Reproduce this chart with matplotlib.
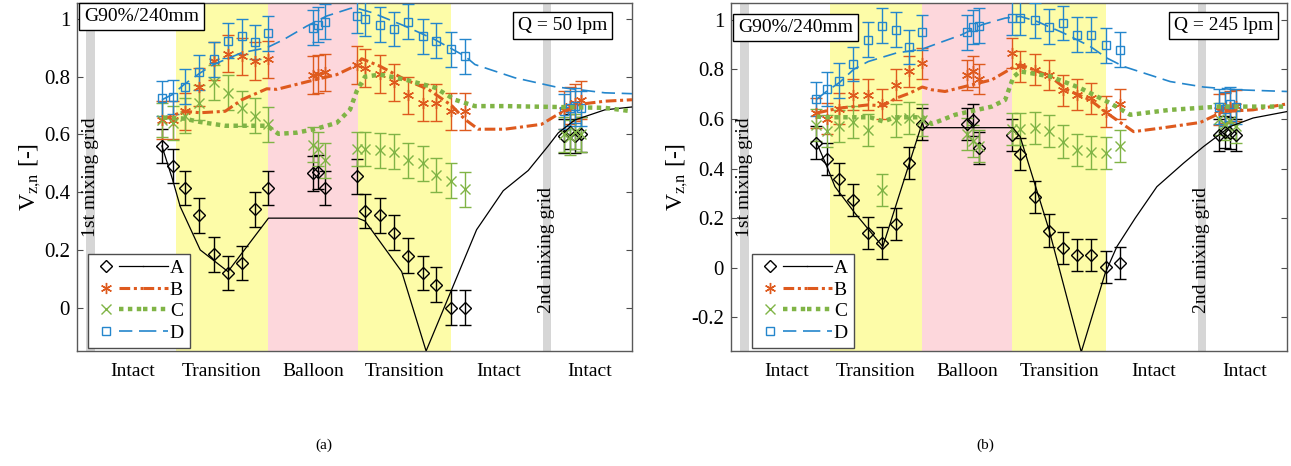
import matplotlib
matplotlib.use('Agg')
import matplotlib.pyplot as plt
import matplotlib.transforms as mtransforms
from matplotlib.lines import Line2D
from matplotlib.legend_handler import HandlerTuple

plt.rcParams['font.family'] = ['Liberation Serif', 'DejaVu Serif']
plt.rcParams['mathtext.fontset'] = 'stix'

# axial positions of measurement points (arbitrary units along the tube, 0..100)
x_pts = [15.3, 17.3, 19.4, 22.0, 24.6, 27.2, 29.7, 32.1, 34.4,
         42.5, 43.5, 44.6,
         50.5, 51.9, 54.6, 57.2, 59.7, 62.3, 64.7, 67.4, 69.9,
         87.8, 88.8, 89.8, 90.9]

# ---- panel (a): Q = 50 lpm ----
A_a = [0.56, 0.49, 0.415, 0.32, 0.185, 0.12, 0.155, 0.34, 0.415,
       0.465, 0.47, 0.415,
       0.455, 0.335, 0.32, 0.26, 0.18, 0.12, 0.08, 0.0, 0.0,
       0.595, 0.61, 0.595, 0.60]
B_a = [0.65, 0.65, 0.68, 0.765, 0.855, 0.88, 0.87, 0.855, 0.86,
       0.805, 0.81, 0.815,
       0.84, 0.83, 0.81, 0.78, 0.735, 0.71, 0.71, 0.68, 0.68,
       0.685, 0.70, 0.71, 0.72]
C_a = [0.65, 0.64, 0.665, 0.71, 0.78, 0.745, 0.69, 0.665, 0.635,
       0.565, 0.55, 0.51,
       0.55, 0.55, 0.545, 0.54, 0.51, 0.50, 0.46, 0.44, 0.41,
       0.60, 0.59, 0.61, 0.60]
D_a = [0.725, 0.73, 0.765, 0.815, 0.86, 0.925, 0.94, 0.92, 0.95,
       0.97, 0.98, 0.99,
       1.01, 1.0, 0.98, 0.965, 0.99, 0.94, 0.925, 0.895, 0.87,
       0.68, 0.69, 0.70, 0.69]
err_a = {'A': 0.06, 'B': 0.065, 'C': 0.06, 'D': 0.06}

# model curves (a)
lineA_ax = [15.3, 17.2, 18.6, 22.2, 27.2, 34.5, 50.6, 51.9, 58.5, 62.9, 72.0, 76.8, 81.3, 84.9, 86.7, 89.7, 95.1, 100]
lineA_ay = [0.56, 0.445, 0.35, 0.20, 0.125, 0.31, 0.31, 0.30, 0.125, -0.15, 0.27, 0.405, 0.475, 0.56, 0.605, 0.65, 0.685, 0.695]
lineB_ax = [15.3, 17.2, 19.3, 22.2, 26.7, 29.7, 34.2, 36.0, 42.0, 46.8, 50.4, 51.3, 54.6, 59.1, 63.3, 67.5, 69.9, 72.3, 77.1, 83.7, 86.7, 90.9, 95.1, 100]
lineB_ay = [0.65, 0.665, 0.68, 0.675, 0.68, 0.72, 0.758, 0.756, 0.785, 0.807, 0.84, 0.862, 0.836, 0.79, 0.756, 0.70, 0.652, 0.618, 0.618, 0.635, 0.67, 0.705, 0.715, 0.72]
lineC_ax = [15.5, 19.2, 22.2, 26.7, 34.2, 36.3, 39.6, 43.2, 46.8, 49.2, 50.4, 51.9, 54.6, 59.1, 64.5, 68.1, 71.7, 77.1, 95.1, 100]
lineC_ay = [0.658, 0.655, 0.643, 0.63, 0.63, 0.602, 0.606, 0.62, 0.64, 0.686, 0.75, 0.80, 0.807, 0.79, 0.762, 0.72, 0.698, 0.698, 0.692, 0.68]
lineD_ax = [15.3, 17.2, 19.3, 22.2, 24.6, 29.7, 34.2, 37.2, 41.4, 45.0, 49.2, 50.1, 53.1, 59.1, 64.5, 69.9, 71.7, 78.9, 86.1, 95.1, 100]
lineD_ay = [0.72, 0.738, 0.773, 0.813, 0.842, 0.883, 0.90, 0.928, 0.975, 1.01, 1.036, 1.039, 1.022, 0.975, 0.928, 0.871, 0.842, 0.796, 0.765, 0.744, 0.741]

# ---- panel (b): Q = 245 lpm ----
A_b = [0.505, 0.438, 0.358, 0.274, 0.139, 0.101, 0.177, 0.424, 0.581,
       0.581, 0.597, 0.482,
       0.536, 0.459, 0.285, 0.150, 0.079, 0.052, 0.052, 0.002, 0.018,
       0.536, 0.549, 0.543, 0.536]
B_b = [0.624, 0.601, 0.642, 0.698, 0.698, 0.661, 0.738, 0.792, 0.824,
       0.778, 0.792, 0.761,
       0.866, 0.812, 0.799, 0.778, 0.715, 0.698, 0.684, 0.630, 0.661,
       0.637, 0.644, 0.650, 0.653]
C_b = [0.577, 0.551, 0.572, 0.588, 0.556, 0.315, 0.594, 0.604, 0.595,
       0.54, 0.51, 0.49,
       0.56, 0.56, 0.563, 0.552, 0.509, 0.476, 0.465, 0.462, 0.492,
       0.60, 0.58, 0.59, 0.57]
D_b = [0.681, 0.721, 0.754, 0.822, 0.920, 0.976, 0.960, 0.890, 0.949,
       0.949, 0.971, 0.976,
       1.007, 1.007, 0.998, 0.973, 0.987, 0.940, 0.940, 0.897, 0.879,
       0.65, 0.64, 0.66, 0.65]
err_b = {'A': 0.065, 'B': 0.062, 'C': 0.065, 'D': 0.07}

lineA_bx = [15.4, 17.4, 18.7, 22.3, 27.3, 34.4, 34.7, 50.7, 52.0, 57.2, 63.0, 67.3, 69.4, 72.7, 76.6, 81.4, 85.0, 89.8, 93.9, 100]
lineA_by = [0.505, 0.40, 0.327, 0.22, 0.085, 0.585, 0.565, 0.565, 0.529, 0.153, -0.34, -0.022, 0.085, 0.20, 0.327, 0.422, 0.489, 0.570, 0.604, 0.630]
lineB_bx = [15.4, 17.4, 19.5, 24.7, 27.3, 29.7, 32.1, 34.4, 36.1, 38.5, 43.3, 46.9, 50.5, 52.0, 54.4, 57.4, 60.4, 64.6, 67.6, 72.4, 77.2, 84.4, 88.5, 93.9, 100]
lineB_by = [0.624, 0.634, 0.644, 0.657, 0.653, 0.684, 0.704, 0.729, 0.718, 0.711, 0.738, 0.758, 0.805, 0.819, 0.799, 0.772, 0.718, 0.677, 0.624, 0.549, 0.563, 0.586, 0.630, 0.637, 0.661]
lineC_bx = [15.4, 16.6, 25.0, 27.4, 29.5, 34.5, 36.1, 40.3, 46.9, 49.3, 50.8, 52.0, 57.4, 62.8, 68.2, 71.8, 79.0, 87.9, 100]
lineC_by = [0.61, 0.607, 0.607, 0.59, 0.607, 0.607, 0.58, 0.617, 0.650, 0.677, 0.77, 0.792, 0.772, 0.725, 0.664, 0.617, 0.637, 0.650, 0.650]
lineD_bx = [15.4, 17.4, 19.5, 22.1, 24.7, 29.7, 34.4, 37.3, 41.5, 45.1, 49.3, 52.0, 55.0, 59.8, 64.6, 67.6, 70.6, 79.0, 85.0, 91.0, 100]
lineD_by = [0.680, 0.715, 0.747, 0.801, 0.832, 0.866, 0.882, 0.906, 0.940, 0.980, 1.007, 1.014, 0.994, 0.947, 0.893, 0.846, 0.812, 0.751, 0.729, 0.718, 0.711]

# flow regions along the tube
yellow_spans = [(17.8, 34.4), (50.6, 67.4)]
pink_spans = [(34.4, 50.6)]
grid_spans = [(1.6, 3.2), (84.0, 85.4)]
region_names = ['Intact', 'Transition', 'Balloon', 'Transition', 'Intact', 'Intact']
region_centers = [10.0, 26.0, 42.5, 59.0, 76.0, 92.3]

colors = {'A': 'black', 'B': '#DE5A1E', 'C': '#80B446', 'D': '#2486CC'}
markers = {'A': 'D', 'B': (6, 2, 0), 'C': 'x', 'D': 's'}
msizes = {'A': 6, 'B': 8, 'C': 7, 'D': 5.5}
lstyles = {'A': '-', 'B': (0, (3.5, 1.2, 1, 1.2)), 'C': (0, (1, 1)), 'D': (0, (8, 4))}
lwidths = {'A': 0.9, 'B': 2.2, 'C': 3.2, 'D': 1.2}


def panel(ax, pts, errs, lines, ylim, yticks, q_text, q_right, leg_x, title_top):
    for a, b in yellow_spans:
        ax.axvspan(a, b, color='#fdfca8', lw=0, zorder=0)
    for a, b in pink_spans:
        ax.axvspan(a, b, color='#fdd7dc', lw=0, zorder=0)
    for a, b in grid_spans:
        ax.axvspan(a, b, color='#d6d6d6', lw=0, zorder=0.5)

    for k in 'ABCD':
        ax.errorbar(x_pts, pts[k], yerr=errs[k], ls='none', marker=markers[k],
                    ms=msizes[k], mfc='none', mec=colors[k], mew=1.0,
                    ecolor=colors[k], elinewidth=1.0, capsize=4, capthick=1.0, zorder=3)
    for k in 'ABCD':
        lx, ly = lines[k]
        ax.plot(lx, ly, color=colors[k], ls=lstyles[k], lw=lwidths[k], zorder=4)

    ax.set_xlim(0, 100)
    ax.set_ylim(*ylim)
    ax.set_yticks(yticks)
    ax.set_yticklabels([f'{t:g}' for t in yticks])
    ax.set_xticks(region_centers)
    ax.set_xticklabels(region_names)
    ax.tick_params(axis='x', length=0, pad=9, labelsize=14)
    ax.tick_params(axis='y', direction='in', right=True, length=4, labelsize=15,
                   color='0.3', pad=5)
    for s in ax.spines.values():
        s.set_color('0.35')
        s.set_linewidth(1.0)
    ax.set_ylabel(r'V$_{\mathrm{z{,}n}}$ [-]', fontsize=17, labelpad=1)

    tr = mtransforms.blended_transform_factory(ax.transData, ax.transAxes)
    ax.text(2.4, 0.5, '1st mixing grid', rotation=90, ha='center', va='center',
            fontsize=14, transform=tr, zorder=2)
    ax.text(84.6, 0.29, '2nd mixing grid', rotation=90, ha='center', va='center',
            fontsize=14, transform=tr, zorder=2)

    box = dict(boxstyle='square,pad=0.25', fc='white', ec='black', lw=1.0)
    ax.text(0.013, title_top, 'G90%/240mm', transform=ax.transAxes, ha='left', va='top',
            fontsize=14, bbox=box, zorder=6)
    ax.text(q_right, 0.96, q_text,
            transform=ax.transAxes, ha='right', va='top', fontsize=14, bbox=box, zorder=6)

    handles = []
    for k in 'ABCD':
        m = Line2D([], [], ls='none', marker=markers[k], ms=msizes[k], mfc='none',
                   mec=colors[k], mew=1.0)
        l = Line2D([], [], color=colors[k], ls=lstyles[k], lw=lwidths[k])
        handles.append((m, l, l))
    leg = ax.legend(handles, ['A', 'B', 'C', 'D'],
                    handler_map={tuple: HandlerTuple(ndivide=None, pad=0)},
                    loc='lower left', bbox_to_anchor=(leg_x, 0.01), borderaxespad=0,
                    handlelength=3.8, handletextpad=0.1, labelspacing=0.2,
                    borderpad=0.3, fontsize=14, fancybox=False, framealpha=1,
                    edgecolor='0.3')
    leg.get_frame().set_linewidth(1.0)
    leg.set_zorder(7)


fig = plt.figure(figsize=(12.91, 4.66), dpi=100)
ax1 = fig.add_axes([77 / 1291, 115 / 466, 555 / 1291, 348 / 466])
ax2 = fig.add_axes([731 / 1291, 115 / 466, 556 / 1291, 348 / 466])

panel(ax1, {'A': A_a, 'B': B_a, 'C': C_a, 'D': D_a}, err_a,
      {'A': (lineA_ax, lineA_ay), 'B': (lineB_ax, lineB_ay),
       'C': (lineC_ax, lineC_ay), 'D': (lineD_ax, lineD_ay)},
      (-0.15, 1.055), [0, 0.2, 0.4, 0.6, 0.8, 1], 'Q = 50 lpm', 0.955, 0.02, 0.985)
panel(ax2, {'A': A_b, 'B': B_b, 'C': C_b, 'D': D_b}, err_b,
      {'A': (lineA_bx, lineA_by), 'B': (lineB_bx, lineB_by),
       'C': (lineC_bx, lineC_by), 'D': (lineD_bx, lineD_by)},
      (-0.336, 1.068), [-0.2, 0, 0.2, 0.4, 0.6, 0.8, 1], 'Q = 245 lpm', 0.975, 0.038, 0.955)

fig.text(324 / 1291, 1 - 445 / 466, '(a)', ha='center', va='center', fontsize=11)
fig.text(985 / 1291, 1 - 445 / 466, '(b)', ha='center', va='center', fontsize=11)

fig.savefig('out.png', dpi=100)
